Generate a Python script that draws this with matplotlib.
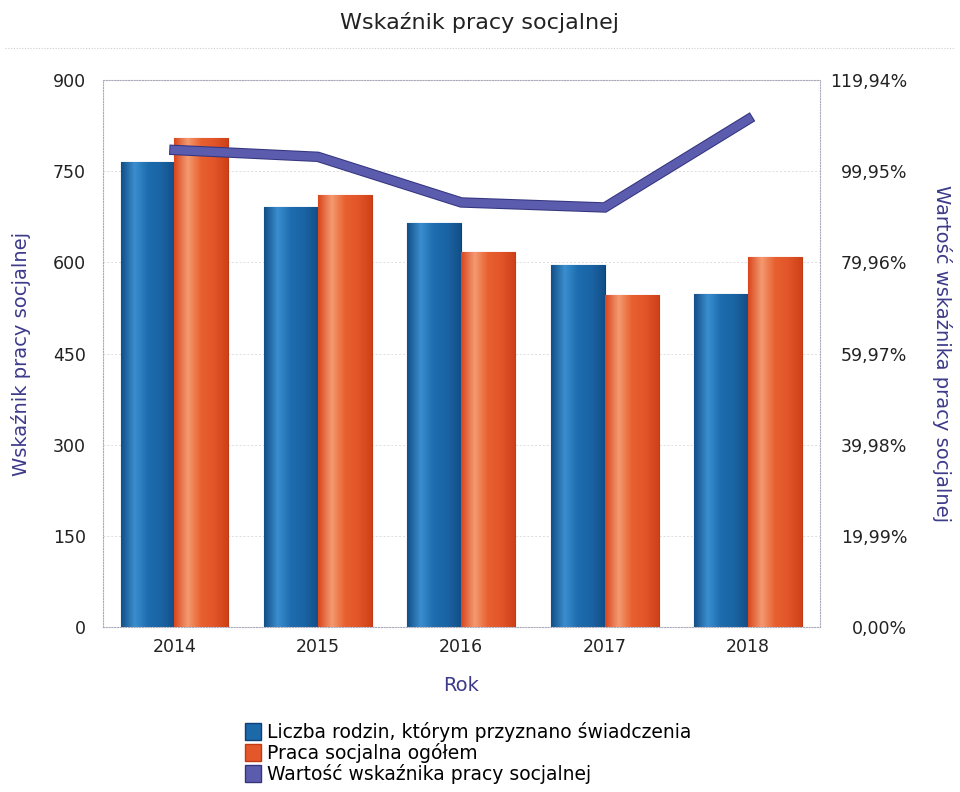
import numpy as np
import matplotlib
matplotlib.use("Agg")
import matplotlib.pyplot as plt
from matplotlib.patches import Patch
from matplotlib.colors import LinearSegmentedColormap
import matplotlib.patheffects as pe

# data
years = ["2014", "2015", "2016", "2017", "2018"]
rodziny = [765, 691, 664, 595, 548]          # Liczba rodzin, którym przyznano świadczenia
praca = [805, 711, 617, 546, 609]            # Praca socjalna ogółem
wskaznik = [104.6, 103.1, 93.1, 92.0, 111.3]  # Wartość wskaźnika pracy socjalnej (%)

left_ticks = [0, 150, 300, 450, 600, 750, 900]
right_ticks = [0.00, 19.99, 39.98, 59.97, 79.96, 99.95, 119.94]

BLUE = "#1b69a8"
ORANGE = "#e4572a"
LINE = "#5b5cae"
LABEL = "#3d3a8a"

plt.rcParams['font.family'] = ['DejaVu Sans']

fig = plt.figure(figsize=(9.6, 7.92), dpi=100)
ax = fig.add_axes([0.107, 0.208, 0.747, 0.691])

x = np.arange(len(years))
w = 0.376

blue_cmap = LinearSegmentedColormap.from_list(
    "b", ["#134f88", "#3a8fcf", "#1d6cae", "#1a64a3", "#134f88"])
orange_cmap = LinearSegmentedColormap.from_list(
    "o", ["#d9481f", "#f49a72", "#e8602f", "#e2552a", "#cf4219"])

bars1 = ax.bar(x - w / 2, rodziny, w, color=BLUE, edgecolor="#0f3f78", linewidth=0.8)
bars2 = ax.bar(x + w / 2, praca, w, color=ORANGE, edgecolor="#c23a14", linewidth=0.8)

# horizontal shading inside each bar
grad = np.linspace(0, 1, 64).reshape(1, -1)
for bars, cmap in ((bars1, blue_cmap), (bars2, orange_cmap)):
    for b in bars:
        x0, y0 = b.get_x(), b.get_y()
        im = ax.imshow(grad, cmap=cmap, aspect="auto", zorder=b.get_zorder() + 0.1,
                       extent=[x0, x0 + b.get_width(), y0, y0 + b.get_height()])
        im.set_clip_path(b)

ax.set_xlim(-0.5, len(years) - 0.5)
ax.set_ylim(0, 900)
ax.set_yticks(left_ticks)
ax.set_xticks(x)
ax.set_xticklabels(years)
ax.tick_params(axis="both", length=0, labelsize=12.5, colors="#222222")
ax.tick_params(axis="y", pad=12)
ax.tick_params(axis="x", pad=8)
ax.grid(axis="y", color="#dddddd", linestyle=(0, (2, 2)), linewidth=0.7)
ax.set_axisbelow(True)
for s in ax.spines.values():
    s.set_color("#aab")
    s.set_linestyle((0, (1, 1.5)))
    s.set_linewidth(0.8)

ax.set_xlabel("Rok", fontsize=14, color=LABEL, labelpad=14)
ax.set_ylabel("Wskaźnik pracy socjalnej", fontsize=14, color=LABEL, labelpad=16)

ax2 = ax.twinx()
ax2.set_ylim(0, 119.94)
ax2.set_yticks(right_ticks)
ax2.set_yticklabels([f"{t:.2f}".replace(".", ",") + "%" for t in right_ticks])
ax2.tick_params(axis="y", length=0, labelsize=12.5, colors="#222222", pad=63)
for lbl in ax2.get_yticklabels():
    lbl.set_horizontalalignment("right")
for s in ax2.spines.values():
    s.set_visible(False)
ax2.plot(x, wskaznik, color=LINE, linewidth=6, solid_joinstyle="miter",
         path_effects=[pe.Stroke(linewidth=7.5, foreground="#34357e"), pe.Normal()])
ax2.set_ylabel("Wartość wskaźnika pracy socjalnej", fontsize=14, color=LABEL,
               rotation=270, labelpad=32)

fig.text(0.5, 0.971, "Wskaźnik pracy socjalnej", ha="center", va="center",
         fontsize=16, color="#222222")
fig.add_artist(plt.Line2D([0.005, 0.995], [0.94, 0.94], transform=fig.transFigure,
                          color="#cccccc", linewidth=0.8, linestyle=(0, (1, 1.5))))

handles = [Patch(facecolor=BLUE, edgecolor="#0f3f78"),
           Patch(facecolor=ORANGE, edgecolor="#c23a14"),
           Patch(facecolor=LINE, edgecolor="#34357e")]
labels = ["Liczba rodzin, którym przyznano świadczenia",
          "Praca socjalna ogółem",
          "Wartość wskaźnika pracy socjalnej"]
fig.legend(handles, labels, loc="upper left", bbox_to_anchor=(0.245, 0.100),
           bbox_transform=fig.transFigure, frameon=False, fontsize=13.5,
           handlelength=0.9, handleheight=1.0, handletextpad=0.3, labelspacing=0.05,
           borderpad=0)

fig.savefig("out.png", dpi=100)
